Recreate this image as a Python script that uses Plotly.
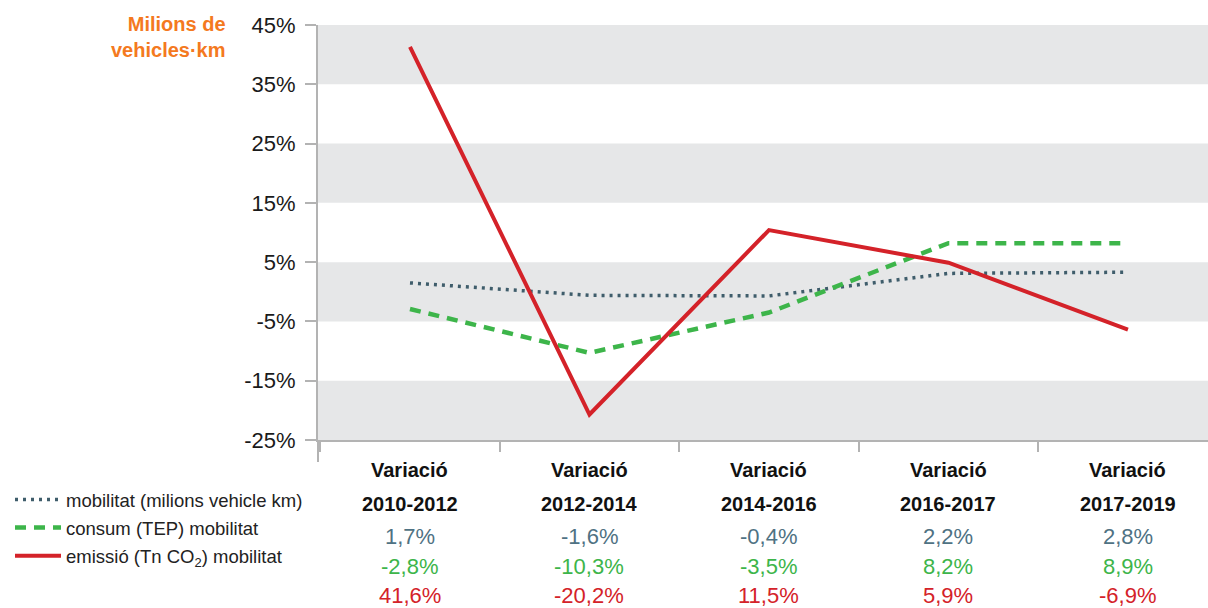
import plotly.graph_objects as go

categories = ["2010-2012", "2012-2014", "2014-2016", "2016-2017", "2017-2019"]
cat_prefix = "Variació"
mobilitat = [1.5, -0.6, -0.7, 3.1, 3.3]
consum = [-2.9, -10.3, -3.5, 8.2, 8.2]
emissio = [41.3, -20.7, 10.4, 4.9, -6.4]
mobilitat_lbl = ["1,7%", "-1,6%", "-0,4%", "2,2%", "2,8%"]
consum_lbl = ["-2,8%", "-10,3%", "-3,5%", "8,2%", "8,9%"]
emissio_lbl = ["41,6%", "-20,2%", "11,5%", "5,9%", "-6,9%"]
y_ticks = [-25, -15, -5, 5, 15, 25, 35, 45]
y_tick_labels = ["-25%", "-15%", "-5%", "5%", "15%", "25%", "35%", "45%"]
series_names = ["mobilitat (milions vehicle km)", "consum (TEP) mobilitat",
                "emissió (Tn CO<sub>2</sub>) mobilitat"]

W, H = 1208, 608
L, R, T, B = 318, 0, 25, 168
PW, PH = W - L - R, H - T - B

def px(x):
    return (x - L) / PW

def py(y):
    return (H - B - y) / PH

C_BLUE = "#3f5d6b"
C_BLUE_TXT = "#4f7283"
C_GREEN = "#3db54a"
C_RED = "#d42229"
C_ORANGE = "#f47920"
C_AXIS = "#b3b3b3"
SANS = "Liberation Sans, Arial, Helvetica, sans-serif"

fig = go.Figure()
fig.add_trace(go.Scatter(x=categories, y=mobilitat, mode="lines", name=series_names[0],
                         line=dict(color=C_BLUE, width=3.5, dash="3px,5px"), legendgroup="a"))
fig.add_trace(go.Scatter(x=categories, y=consum, mode="lines", name=series_names[1],
                         line=dict(color=C_GREEN, width=4.5, dash="11px,8px"), legendgroup="b"))
fig.add_trace(go.Scatter(x=categories, y=emissio, mode="lines", name=series_names[2],
                         line=dict(color=C_RED, width=4), legendgroup="c"))

shapes = []
for lo, hi in [(35, 45), (15, 25), (-5, 5), (-25, -15)]:
    shapes.append(dict(type="rect", xref="paper", yref="y", x0=0, x1=1, y0=lo, y1=hi,
                       fillcolor="#e6e7e8", line=dict(width=0), layer="below"))
shapes.append(dict(type="line", xref="paper", yref="paper", x0=0, x1=0, y0=0, y1=py(462),
                   line=dict(color=C_AXIS, width=2)))
fig.update_layout(shapes=shapes)

ann = []
ann.append(dict(text="<b>Milions de<br>vehicles·km</b>", xref="paper", yref="paper",
                x=px(228), y=py(11), xanchor="right", yanchor="top", align="right",
                showarrow=False, font=dict(family=SANS, size=20, color=C_ORANGE)))
for i, c in enumerate(categories):
    ann.append(dict(text="<b>" + cat_prefix + "</b>", x=c, xref="x", yref="paper", y=py(470),
                    xanchor="center", yanchor="middle",
                    showarrow=False, font=dict(family=SANS, size=20, color="#111")))
    ann.append(dict(text="<b>" + c + "</b>", x=c, xref="x", yref="paper", y=py(504),
                    xanchor="center", yanchor="middle",
                    showarrow=False, font=dict(family=SANS, size=20, color="#111")))
    for lbl, yy, col in [(mobilitat_lbl[i], 536, C_BLUE_TXT), (consum_lbl[i], 566, C_GREEN),
                         (emissio_lbl[i], 595, C_RED)]:
        ann.append(dict(text=lbl, x=c, xref="x", yref="paper", y=py(yy), showarrow=False,
                        xanchor="center", yanchor="middle",
                        font=dict(family=SANS, size=22, color=col)))
fig.update_layout(annotations=ann)

fig.update_layout(
    width=W, height=H, margin=dict(l=L, r=R, t=T, b=B, autoexpand=False),
    paper_bgcolor="white", plot_bgcolor="white",
    showlegend=True,
    legend=dict(x=px(10), y=py(481), xanchor="left", yanchor="top", bgcolor="rgba(0,0,0,0)",
                font=dict(family=SANS, size=18.5, color="#222"), tracegroupgap=1,
                itemwidth=46),
    xaxis=dict(type="category", showticklabels=False, showgrid=False, zeroline=False,
               showline=True, linecolor=C_AXIS, linewidth=2, ticks="outside",
               tickson="boundaries", ticklen=10, tickcolor=C_AXIS, tickwidth=2,
               range=[-0.5125, 4.446], automargin=False),
    yaxis=dict(range=[-25, 45], tickvals=y_ticks, ticktext=y_tick_labels, showgrid=False,
               zeroline=False, showline=True, linecolor=C_AXIS, linewidth=2, ticks="outside",
               ticklen=11, tickcolor=C_AXIS, tickwidth=2, ticklabelstandoff=5,
               automargin=False,
               tickfont=dict(family=SANS, size=22, color="#1a1a1a")),
)

fig.write_html("out.html", config={"responsive": False, "displayModeBar": False},
               post_script="document.body.style.margin='0';document.body.style.overflow='hidden';")
